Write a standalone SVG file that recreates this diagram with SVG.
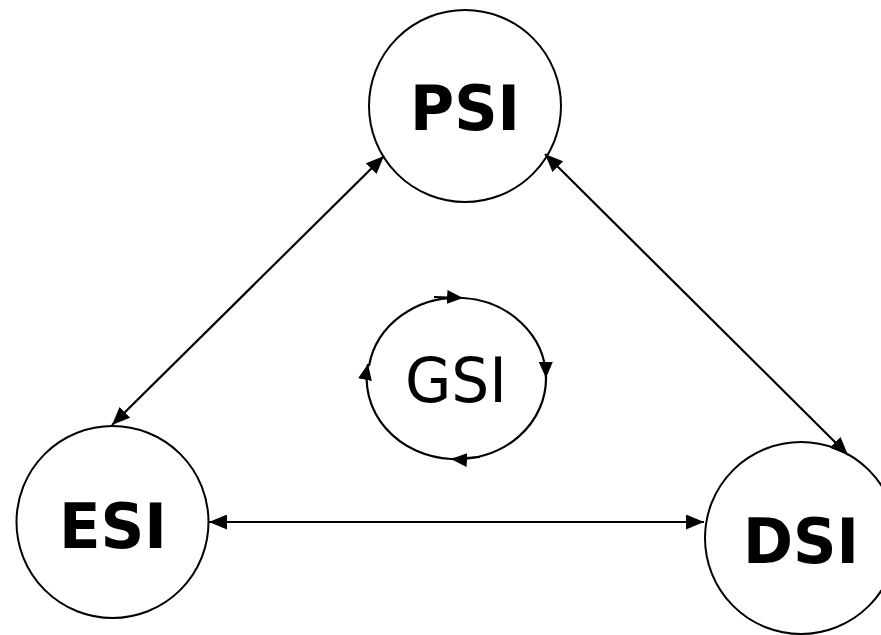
<svg xmlns="http://www.w3.org/2000/svg" width="881" height="635" viewBox="0 0 881 635">
<style>
.node{fill:#fff;stroke:#000;stroke-width:2}
.lbl{font-family:"DejaVu Sans","Liberation Sans",sans-serif;font-weight:bold;font-size:62px;fill:#000}
.lblr{font-family:"DejaVu Sans","Liberation Sans",sans-serif;font-size:62px;fill:#000}
.edge{fill:none;stroke:#000;stroke-width:2.2;marker-end:url(#ah);marker-start:url(#ah)}
.loop{fill:none;stroke:#000;stroke-width:2.2;marker-end:url(#ah2)}
</style>
<defs>
<marker id="ah" viewBox="0 0 18 15" refX="18" refY="7.5" markerWidth="18" markerHeight="15" markerUnits="userSpaceOnUse" orient="auto-start-reverse"><path d="M0,0 L18,7.5 L0,15 z" fill="#000"/></marker>
<marker id="ah2" viewBox="0 0 16 14" refX="16" refY="7" markerWidth="16" markerHeight="14" markerUnits="userSpaceOnUse" orient="auto"><path d="M0,0 L16,7 L0,14 z" fill="#000"/></marker>
</defs>
<rect width="881" height="635" fill="#fff"/>
<g id="PSI"><circle class="node" cx="465" cy="106" r="96"/><text class="lbl" x="410" y="130" textLength="110" lengthAdjust="spacingAndGlyphs">PSI</text></g>
<g id="ESI"><circle class="node" cx="112.5" cy="522" r="96"/><text class="lbl" x="59" y="548" textLength="108" lengthAdjust="spacingAndGlyphs">ESI</text></g>
<g id="DSI"><circle class="node" cx="801" cy="538" r="96"/><text class="lbl" x="743" y="563" textLength="116" lengthAdjust="spacingAndGlyphs">DSI</text></g>
<g id="GSI"><text class="lblr" x="405" y="402" textLength="102" lengthAdjust="spacingAndGlyphs">GSI</text></g>
<g id="connectors">
<line class="edge" x1="112" y1="425" x2="384" y2="156"/>
<line class="edge" x1="545" y1="154" x2="848" y2="455"/>
<line class="edge" x1="209" y1="522" x2="704" y2="522"/>
<path class="loop" d="M369,366 A89,81 0 0 1 463,298"/>
<path class="loop" d="M434,297 L463,298 A89,81 0 0 1 546,378"/>
<path class="loop" d="M546,376 A89,81 0 0 1 451,459"/>
<path class="loop" d="M480,457 L451,459 A89,81 0 0 1 368,364"/>
</g>
</svg>
